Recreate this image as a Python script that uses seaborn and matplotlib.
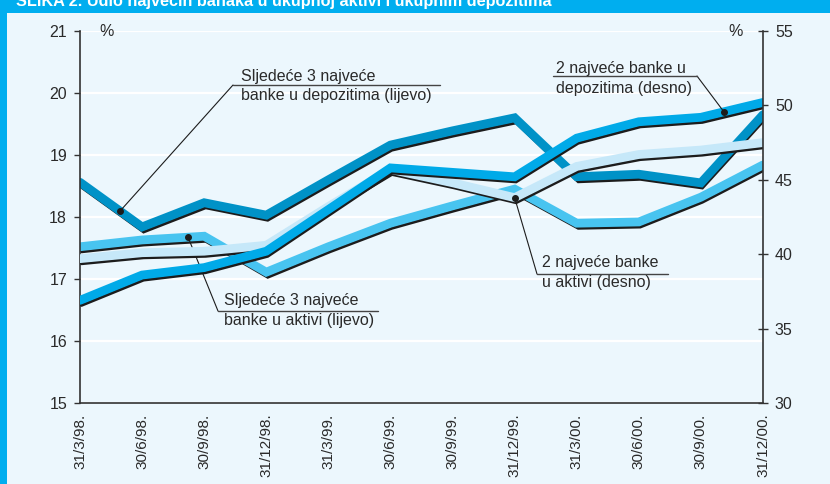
import numpy as np
import pandas as pd
import matplotlib
matplotlib.use("Agg")
import matplotlib.pyplot as plt
import matplotlib.transforms as mtransforms
from matplotlib.patches import Rectangle
from matplotlib.lines import Line2D
import seaborn as sns

# quarter-end dates
dates = ["31/3/98.", "30/6/98.", "30/9/98.", "31/12/98.", "31/3/99.", "30/6/99.",
         "30/9/99.", "31/12/99.", "31/3/00.", "30/6/00.", "30/9/00.", "31/12/00."]

# left axis (%)
dep3_left = [18.56, 17.84, 18.23, 18.03, 18.60, 19.16, 19.39, 19.60, 18.65, 18.69, 18.55, 19.65]
akt3_left = [17.52, 17.63, 17.69, 17.11, 17.52, 17.90, 18.18, 18.45, 17.90, 17.92, 18.32, 18.84]
# right axis (%)
dep2_right = [36.9, 38.6, 39.1, 40.2, 43.0, 45.8, 45.5, 45.2, 47.8, 48.9, 49.2, 50.2]
akt2_right = [39.7, 40.1, 40.2, 40.6, 43.2, 45.7, 44.8, 43.8, 45.9, 46.7, 47.0, 47.5]

left_ticks = [15, 16, 17, 18, 19, 20, 21]
right_ticks = [30, 35, 40, 45, 50, 55]

title = "SLIKA 2. Udio najvećih banaka u ukupnoj aktivi i ukupnim depozitima"

bg = "#ecf7fd"
band = "#00aeef"
shadow = "#1c1c1c"
c_dep3 = "#0092c7"
c_dep2 = "#00aae8"
c_akt3 = "#48c4f0"
c_akt2 = "#c6e8f9"
txt = "#2a2a2a"

sns.set_style("white", rc={"axes.facecolor": bg, "figure.facecolor": bg})
plt.rcParams["font.family"] = ["Liberation Sans", "DejaVu Sans"]

W, H = 830, 484
fig = plt.figure(figsize=(W / 100, H / 100), dpi=100)
ax = fig.add_axes([80 / W, 1 - 403 / H, (763 - 80) / W, (403 - 31) / H])
ax2 = ax.twinx()
ax2.patch.set_visible(False)

x = np.arange(len(dates))
offset = mtransforms.ScaledTranslation(1.5 / 100, -5 / 100, fig.dpi_scale_trans)


def draw(axis, values, color):
    df = pd.DataFrame({"x": x, "y": values})
    n = len(axis.lines)
    sns.lineplot(data=df, x="x", y="y", ax=axis, color=shadow, lw=2.2, legend=False)
    sh = axis.lines[n]
    sh.set_transform(sh.get_transform() + offset)
    sh.set_solid_joinstyle("miter")
    sns.lineplot(data=df, x="x", y="y", ax=axis, color=color, lw=6.3, legend=False)
    axis.lines[-1].set_solid_joinstyle("miter")


draw(ax, akt3_left, c_akt3)
draw(ax, dep3_left, c_dep3)
draw(ax2, akt2_right, c_akt2)
draw(ax2, dep2_right, c_dep2)

# axes styling
ax.set_xlim(0, len(dates) - 1)
ax.set_ylim(15, 21)
ax2.set_ylim(30, 55)
ax.set_yticks(left_ticks)
ax2.set_yticks(right_ticks)
ax.set_xticks(x)
ax.set_xticklabels(dates, rotation=90, va="top", ha="center")
for a in (ax, ax2):
    a.set_xlabel("")
    a.set_ylabel("")
    a.spines["top"].set_visible(False)
    for s in ("left", "right", "bottom"):
        a.spines[s].set_color("#333333")
        a.spines[s].set_linewidth(1.2)
ax.spines["right"].set_visible(False)
ax2.spines["left"].set_visible(False)
ax2.spines["bottom"].set_visible(False)

ax.yaxis.grid(True, color="white", lw=1.6)
ax.set_axisbelow(True)
ax.tick_params(axis="y", direction="out", length=4.3, width=1, color="#333333",
               labelsize=11.5, labelcolor=txt, pad=5)
ax.tick_params(axis="x", direction="out", length=3.6, width=1, color="#333333",
               labelsize=11, labelcolor=txt, pad=4)
ax2.tick_params(axis="y", direction="inout", length=7.2, width=1, color="#333333",
                labelsize=11.5, labelcolor=txt, pad=5)

fig.text(107 / W, 1 - 31 / H, "%", fontsize=11.5, color=txt, ha="center", va="center")
fig.text(736 / W, 1 - 31 / H, "%", fontsize=11.5, color=txt, ha="center", va="center")


def fp(px, py):
    return (px / W, 1 - py / H)


def callout(axis, xi, values, lines, text_x, ys, under, tip):
    yv = np.interp(xi, x, values)
    axis.plot([xi], [yv], "o", color=shadow, ms=4, zorder=10)
    axis.annotate("", xy=(xi, yv), xycoords="data",
                  xytext=fp(*tip), textcoords="figure fraction",
                  arrowprops=dict(arrowstyle="-", lw=0.8, color=shadow,
                                  shrinkA=0, shrinkB=0), zorder=10)
    fig.add_artist(Line2D([under[0] / W, under[1] / W],
                          [1 - under[2] / H, 1 - under[2] / H],
                          lw=1.0, color="#444444"))
    for line, yy in zip(lines, ys):
        fig.text(text_x / W, 1 - yy / H, line, fontsize=11.5, color=txt,
                 ha="left", va="center")


callout(ax, 0.645, dep3_left, ["Sljedeće 3 najveće", "banke u depozitima (lijevo)"],
        241, [76, 95], (233, 440, 85), (233, 85))
callout(ax2, 10.37, dep2_right, ["2 najveće banke u", "depozitima (desno)"],
        556, [68, 88], (553, 697, 76), (697, 76))
callout(ax, 1.74, akt3_left, ["Sljedeće 3 najveće", "banke u aktivi (lijevo)"],
        224, [300, 320], (218, 378, 311), (218, 311))
callout(ax2, 7.0, akt2_right, ["2 najveće banke", "u aktivi (desno)"],
        542, [262, 283], (537, 668, 274), (537, 274))

# title band and left border
fig.add_artist(Rectangle((0, 1 - 13 / H), 1, 13 / H, transform=fig.transFigure,
                         facecolor=band, edgecolor="none"))
fig.add_artist(Rectangle((0, 0), 7 / W, 1, transform=fig.transFigure,
                         facecolor=band, edgecolor="none"))
fig.text(16 / W, 1 - 6 / H, title, fontsize=11.7, fontweight="bold", color="white",
         ha="left", va="baseline")

fig.savefig("out.png", dpi=100, facecolor=bg)
